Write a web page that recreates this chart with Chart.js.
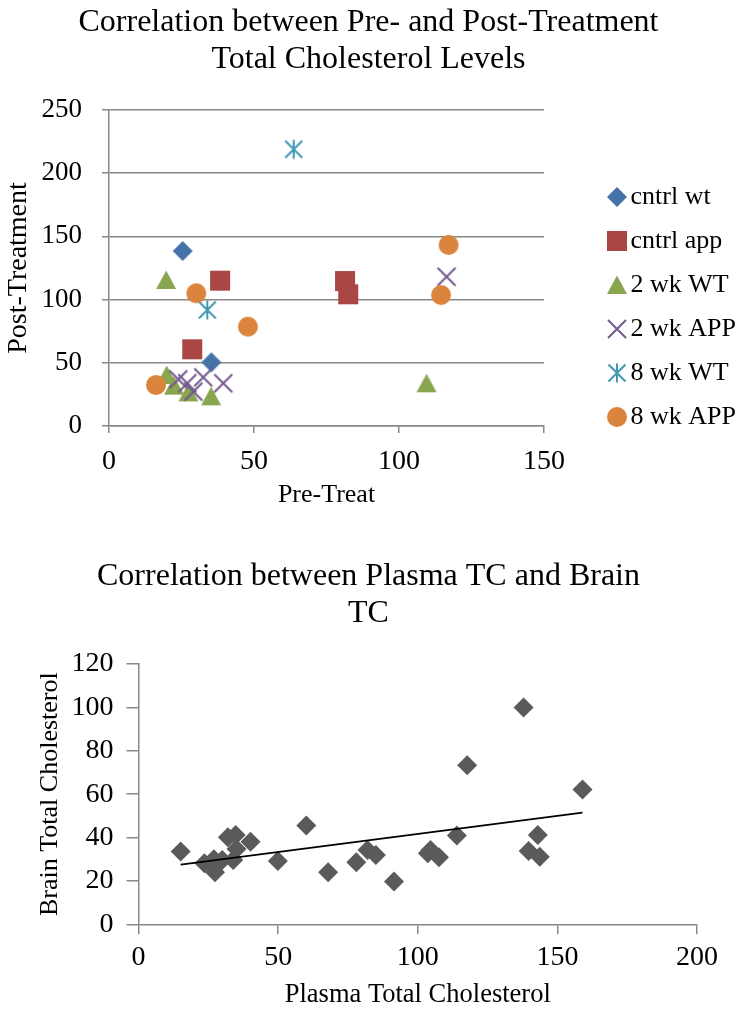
<!DOCTYPE html>
<html>
<head>
<meta charset="utf-8">
<script src="https://cdn.jsdelivr.net/npm/chart.js@4.4.1/dist/chart.umd.min.js"></script>
<style>
  html, body { margin: 0; padding: 0; background: #ffffff; }
  body { width: 737px; height: 1011px; position: relative; overflow: hidden; }
  canvas { position: absolute; left: 0; }
</style>
</head>
<body>
<canvas id="top" width="737" height="530" style="top:0"></canvas>
<canvas id="bottom" width="737" height="481" style="top:530px"></canvas>
<script>
// ---------- data: chart 1 (Pre- vs Post-Treatment), [pre, post] ----------
const seriesNames = ['cntrl wt', 'cntrl app', '2 wk WT', '2 wk APP', '8 wk WT', '8 wk APP'];
const cntrlWt  = [[25.4, 138.4], [35.3, 50.4]];
const cntrlApp = [[38.3, 115.0], [28.7, 60.7], [81.4, 114.7], [82.5, 104.2]];
const wk2WT    = [[19.7, 115.5], [19.9, 40.3], [22.4, 31.9], [27.4, 26.6], [35.2, 23.5], [109.5, 33.8]];
const wk2APP   = [[23.9, 36.9], [27.0, 33.8], [29.1, 27.2], [32.5, 38.5], [39.4, 33.8], [116.4, 118.1]];
const wk8WT    = [[63.7, 218.9], [33.9, 91.8]];
const wk8APP   = [[16.2, 32.4], [30.1, 105.0], [47.9, 78.6], [117.1, 143.2], [114.5, 103.6]];
const topTitle = ['Correlation between Pre- and Post-Treatment', 'Total Cholesterol Levels'];
const topXTitle = 'Pre-Treat';
const topYTitle = 'Post-Treatment';

// ---------- data: chart 2 (Plasma TC vs Brain TC) ----------
const plasmaTC = [15.1, 23.6, 27.0, 27.4, 30.0, 32.0, 34.8, 35.1, 33.9, 40.1, 49.9, 60.1, 67.9, 78.0,
                  82.0, 85.0, 91.5, 103.6, 104.6, 107.6, 114.0, 117.7, 137.9, 139.7, 143.0, 143.7, 159.0];
const brainTC  = [33.6, 28.1, 30.0, 24.0, 29.7, 40.1, 41.2, 34.7, 29.7, 38.1, 29.2, 45.5, 24.0, 28.6,
                  34.3, 32.0, 19.7, 32.7, 34.3, 30.9, 40.9, 73.3, 99.9, 33.8, 41.2, 31.2, 62.2];
const bottomTitle = ['Correlation between Plasma TC and Brain', 'TC'];
const bottomXTitle = 'Plasma Total Cholesterol';
const bottomYTitle = 'Brain Total Cholesterol';

// ---------- helpers ----------
const toPts = arr => arr.map(([x, y]) => ({x, y}));

function marker(draw) {
  const c = document.createElement('canvas');
  c.width = 22; c.height = 22;
  const g = c.getContext('2d');
  draw(g);
  return c;
}
const mDiamond = marker(g => { g.fillStyle = '#4572A7'; g.beginPath(); g.moveTo(11, 1); g.lineTo(21, 11); g.lineTo(11, 21); g.lineTo(1, 11); g.closePath(); g.fill(); });
const mSquare = marker(g => { g.fillStyle = '#AA4643'; g.fillRect(1, 1, 20, 20); });
const mTriangle = marker(g => { g.fillStyle = '#89A54E'; g.beginPath(); g.moveTo(11, 1.5); g.lineTo(21, 20); g.lineTo(1, 20); g.closePath(); g.fill(); });
const mCross = marker(g => { g.strokeStyle = '#71588F'; g.lineWidth = 2; g.beginPath(); g.moveTo(2, 2); g.lineTo(20, 20); g.moveTo(20, 2); g.lineTo(2, 20); g.stroke(); });
const mStar = marker(g => { g.strokeStyle = '#4198AF'; g.lineWidth = 2; g.beginPath(); g.moveTo(2.5, 2.5); g.lineTo(19.5, 19.5); g.moveTo(19.5, 2.5); g.lineTo(2.5, 19.5); g.moveTo(11, 1.5); g.lineTo(11, 20.5); g.stroke(); });
const mCircle = marker(g => { g.fillStyle = '#DB843D'; g.beginPath(); g.arc(11, 11, 10, 0, Math.PI * 2); g.fill(); });

const topSeries = [cntrlWt, cntrlApp, wk2WT, wk2APP, wk8WT, wk8APP];
const topMarkers = [mDiamond, mSquare, mTriangle, mCross, mStar, mCircle];
const topColors = ['#4572A7', '#AA4643', '#89A54E', '#71588F', '#4198AF', '#DB843D'];

const serif = 'Liberation Serif';
const gridGray = '#888888';

// centres the title over the whole page and places the legend block as in the reference
const blockPlacer = {
  id: 'blockPlacer',
  afterLayout(chart, args, opts) {
    const t = chart.titleBlock;
    if (t) { t.left = 0; t.right = chart.width; }
    const lg = chart.legend;
    if (lg && opts.legendLeft !== undefined) {
      lg.left = opts.legendLeft; lg.right = chart.width;
      lg.top = opts.legendTop; lg.bottom = chart.height;
    }
  }
};

// ---------- chart 1 ----------
new Chart(document.getElementById('top'), {
  type: 'scatter',
  data: {
    datasets: topSeries.map((s, i) => ({
      label: seriesNames[i],
      data: toPts(s),
      pointStyle: topMarkers[i],
      pointRadius: 10,
      backgroundColor: topColors[i],
      borderColor: topColors[i],
      order: topSeries.length - i
    }))
  },
  options: {
    responsive: false,
    animation: false,
    devicePixelRatio: 1,
    layout: { padding: { left: 0, top: 0, right: 143, bottom: 0 } },
    plugins: {
      title: {
        display: true, text: topTitle, color: '#000',
        font: { family: serif, size: 32, weight: 'normal', lineHeight: 1.17 },
        padding: { top: 3.5, bottom: 31.6 }
      },
      legend: {
        display: true, position: 'right', align: 'start', maxWidth: 50,
        labels: {
          usePointStyle: true, boxWidth: 1, padding: 18, color: '#000',
          font: { family: serif, size: 26 },
          sort: (a, b) => a.datasetIndex - b.datasetIndex
        }
      },
      blockPlacer: { legendLeft: 598.5, legendTop: 166 },
      tooltip: { enabled: false }
    },
    scales: {
      x: {
        type: 'linear', min: 0, max: 150,
        afterFit: s => { s.height = 104; },
        ticks: { stepSize: 50, color: '#000', padding: 11.7, maxRotation: 0,
                 font: { family: serif, size: 28 } },
        grid: { drawOnChartArea: false, drawTicks: true, tickLength: 7, color: gridGray, lineWidth: 1.5 },
        border: { color: gridGray, width: 1.5 },
        title: { display: true, text: topXTitle, color: '#000',
                 font: { family: serif, size: 26 }, padding: { top: 0, bottom: 19.4 } }
      },
      y: {
        type: 'linear', min: 0, max: 250,
        afterFit: s => { s.width = 109; },
        ticks: { stepSize: 50, color: '#000', padding: 20, font: { family: serif, size: 27 } },
        grid: { drawTicks: true, tickLength: 7, color: gridGray, lineWidth: 1.5 },
        border: { color: gridGray, width: 1.5 },
        title: { display: true, text: topYTitle, color: '#000',
                 font: { family: serif, size: 28 }, padding: { top: 1.5, bottom: 0 } }
      }
    }
  },
  plugins: [blockPlacer]
});

// ---------- chart 2 ----------
const n = plasmaTC.length;
const mx = plasmaTC.reduce((a, b) => a + b, 0) / n;
const my = brainTC.reduce((a, b) => a + b, 0) / n;
let sxy = 0, sxx = 0;
for (let i = 0; i < n; i++) { sxy += (plasmaTC[i] - mx) * (brainTC[i] - my); sxx += (plasmaTC[i] - mx) ** 2; }
const slope = sxy / sxx;
const intercept = my - slope * mx;
const xMin = Math.min(...plasmaTC), xMax = Math.max(...plasmaTC);

new Chart(document.getElementById('bottom'), {
  type: 'scatter',
  data: {
    datasets: [
      {
        label: 'Linear trend',
        type: 'line',
        data: [{ x: xMin, y: intercept + slope * xMin }, { x: xMax, y: intercept + slope * xMax }],
        borderColor: '#000000', borderWidth: 1.8, pointRadius: 0, fill: false, tension: 0
      },
      {
        label: 'Brain TC',
        data: plasmaTC.map((x, i) => ({ x, y: brainTC[i] })),
        pointStyle: 'rectRot', pointRadius: 10,
        backgroundColor: '#5A5A5A', borderColor: '#5A5A5A', borderWidth: 0
      }
    ]
  },
  options: {
    responsive: false,
    animation: false,
    devicePixelRatio: 1,
    layout: { padding: { left: 0, top: 0, right: 40, bottom: 0 } },
    plugins: {
      title: {
        display: true, text: bottomTitle, color: '#000',
        font: { family: serif, size: 32, weight: 'normal', lineHeight: 1.13 },
        padding: { top: 28.9, bottom: 32.8 }
      },
      legend: { display: false },
      blockPlacer: {},
      tooltip: { enabled: false }
    },
    scales: {
      x: {
        type: 'linear', min: 0, max: 200,
        afterFit: s => { s.height = 86.7; },
        ticks: { stepSize: 50, color: '#000', padding: 6.9, maxRotation: 0,
                 font: { family: serif, size: 28 } },
        grid: { drawOnChartArea: false, drawTicks: true, tickLength: 10, color: gridGray, lineWidth: 1.5 },
        border: { color: gridGray, width: 1.5 },
        title: { display: true, text: bottomXTitle, color: '#000',
                 font: { family: serif, size: 26.5 }, padding: { top: 0, bottom: 0 } }
      },
      y: {
        type: 'linear', min: 0, max: 120,
        afterFit: s => { s.width = 138.5; },
        ticks: { stepSize: 20, color: '#000', padding: 13, font: { family: serif, size: 28 } },
        grid: { drawOnChartArea: false, drawTicks: true, tickLength: 12, color: gridGray, lineWidth: 1.5 },
        border: { color: gridGray, width: 1.5 },
        title: { display: true, text: bottomYTitle, color: '#000',
                 font: { family: serif, size: 26 }, padding: { top: 34.4, bottom: 0 } }
      }
    }
  },
  plugins: [blockPlacer]
});
</script>
</body>
</html>
